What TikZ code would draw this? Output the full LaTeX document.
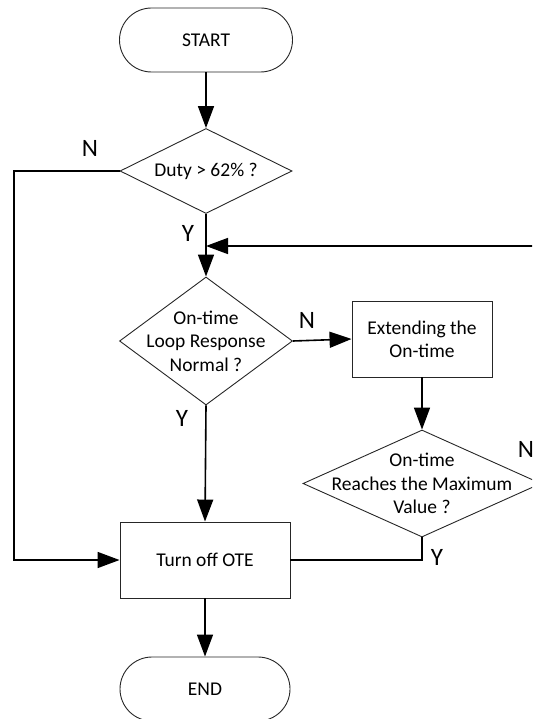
\documentclass[tikz,border=0pt]{standalone}
\usepackage{fontspec}
\setmainfont{Carlito}
\usetikzlibrary{shapes.geometric,arrows.meta}
\begin{document}
\begin{tikzpicture}[x=1pt,y=-1pt,
  shp/.style={draw=black!85,line width=0.9pt,inner sep=0pt,font=\fontsize{19.5}{23}\selectfont,align=center},
  term/.style={shp,rectangle,rounded corners=32pt,minimum height=64pt},
  boxn/.style={shp,rectangle,minimum height=76pt},
  dia/.style={shp,diamond},
  dtext/.style={font=\fontsize{19.5}{23.5}\selectfont,align=center,inner sep=0pt},
  arr/.style={line width=1.6pt,-{Triangle[length=22pt,width=16pt]}},
  ln/.style={line width=1.6pt},
  lbl/.style={font=\fontsize{25}{25}\selectfont,inner sep=0pt}]
\useasboundingbox (0,0) rectangle (532,719);
\clip (0,0) rectangle (532,719);
\node[term,minimum width=173pt] (start) at (206,40) {START};
\node[dia,minimum width=172pt,minimum height=85pt] (d1) at (206,171) {};
\node[dtext] (t1) at (206,171) {Duty > 62\% ?};
\node[dia,minimum width=173pt,minimum height=128pt] (d2) at (206,341) {};
\node[dtext] (t2) at (206,341) {On-time\\Loop Response\\Normal ?};
\node[boxn,minimum width=140pt] (ext) at (422,339) {Extending the\\On-time};
\node[dia,minimum width=238pt,minimum height=107pt] (d3) at (422,483.5) {};
\node[dtext] (t3) at (422,483.5) {On-time\\Reaches the Maximum\\Value ?};
\node[boxn,minimum width=170pt] (off) at (205,560) {Turn off OTE};
\node[term,minimum width=170pt] (end) at (205,689) {END};
\coordinate (j) at (206,246);
\coordinate (nl) at (14,171);
\coordinate (fbtop) at (548,246);
\coordinate (fbbot) at (548,483.5);
\coordinate (yc) at (422,560);
\draw[arr] (start.south) -- (d1.north);
\draw[ln] (d1.south) -- (j);
\draw[arr] (j) -- (d2.north);
\draw[arr] (fbtop) -- (j);
\draw[ln] (d3.east) -- (fbbot) -- (fbtop);
\draw[arr] (d1.west) -- (nl) |- (off.west);
\draw[arr] (d2.east) -- (ext.west);
\draw[arr] (ext.south) -- (d3.north);
\draw[arr] (d2.south) -- (off.north);
\draw[ln] (d3.south) -- (yc) -- (off.east);
\draw[arr] (off.south) -- (end.north);
\node[lbl] (n1) at (90,148) {N};
\node[lbl] (y1) at (188,233) {Y};
\node[lbl] (n2) at (307,320) {N};
\node[lbl] (y2) at (182,418) {Y};
\node[lbl] (n3) at (526,449) {N};
\node[lbl] (y3) at (437,557) {Y};
\end{tikzpicture}
\end{document}
